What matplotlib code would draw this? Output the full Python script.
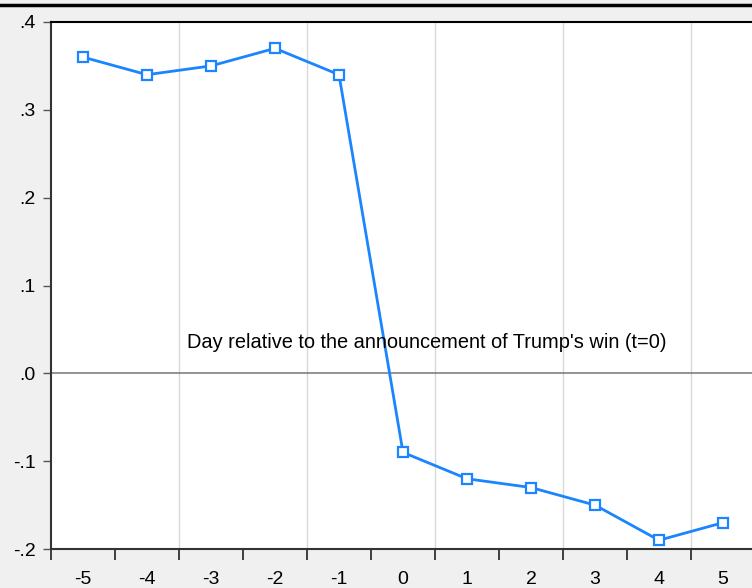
import matplotlib.pyplot as plt
from matplotlib.lines import Line2D

# event-time effect around the announcement
days = [-5, -4, -3, -2, -1, 0, 1, 2, 3, 4, 5]
effect = [0.36, 0.34, 0.35, 0.37, 0.34, -0.09, -0.12, -0.13, -0.15, -0.19, -0.17]
y_ticks = [-0.2, -0.1, 0.0, 0.1, 0.2, 0.3, 0.4]
y_labels = ["-.2", "-.1", ".0", ".1", ".2", ".3", ".4"]
grid_x = [-3.5, -1.5, 0.5, 2.5, 4.5]
note = "Day relative to the announcement of Trump's win (t=0)"

plt.rcParams["font.family"] = ["Liberation Sans", "DejaVu Sans"]

fig = plt.figure(figsize=(7.52, 5.88), dpi=100, facecolor="#f0f0f0")
ax = fig.add_axes([0.0678, 0.0663, 0.9362, 0.8963])
ax.set_facecolor("white")

for gx in grid_x:
    ax.axvline(gx, color="#d8d8d8", lw=1.0, zorder=1)
ax.axhline(0, color="#808080", lw=1.2, zorder=2)

ax.plot(days, effect, color="#1a85ff", lw=2.0, marker="s", ms=6.5,
        mfc="white", mec="#1a85ff", mew=1.6, zorder=3)

ax.text(0.37, 0.035, note, ha="center", va="center", fontsize=14.4, color="black")

ax.set_xlim(-5.5, 5.5)
ax.set_ylim(-0.2, 0.4)
ax.set_yticks(y_ticks)
ax.set_yticklabels(y_labels, fontsize=14)
ax.set_xticks(days)
ax.set_xticklabels([str(d) for d in days], fontsize=14)
ax.tick_params(axis="x", which="major", length=0, pad=16)
ax.set_xticks([d + 0.5 for d in range(-6, 6)], minor=True)
ax.tick_params(axis="x", which="minor", length=8, width=1.2, color="#222222", direction="out")
ax.tick_params(axis="y", length=6, width=1.0, color="#555555", direction="out", pad=5)

for side in ["left", "bottom"]:
    ax.spines[side].set_color("#333333")
    ax.spines[side].set_linewidth(1.5)
ax.spines["top"].set_color("black")
ax.spines["top"].set_linewidth(1.5)
ax.spines["right"].set_visible(False)

# outer frame line along the top of the window
fig.add_artist(Line2D([0, 1], [1 - 5 / 588, 1 - 5 / 588], transform=fig.transFigure,
                      color="black", lw=2.5))

fig.savefig("out.png", dpi=100, facecolor=fig.get_facecolor())
